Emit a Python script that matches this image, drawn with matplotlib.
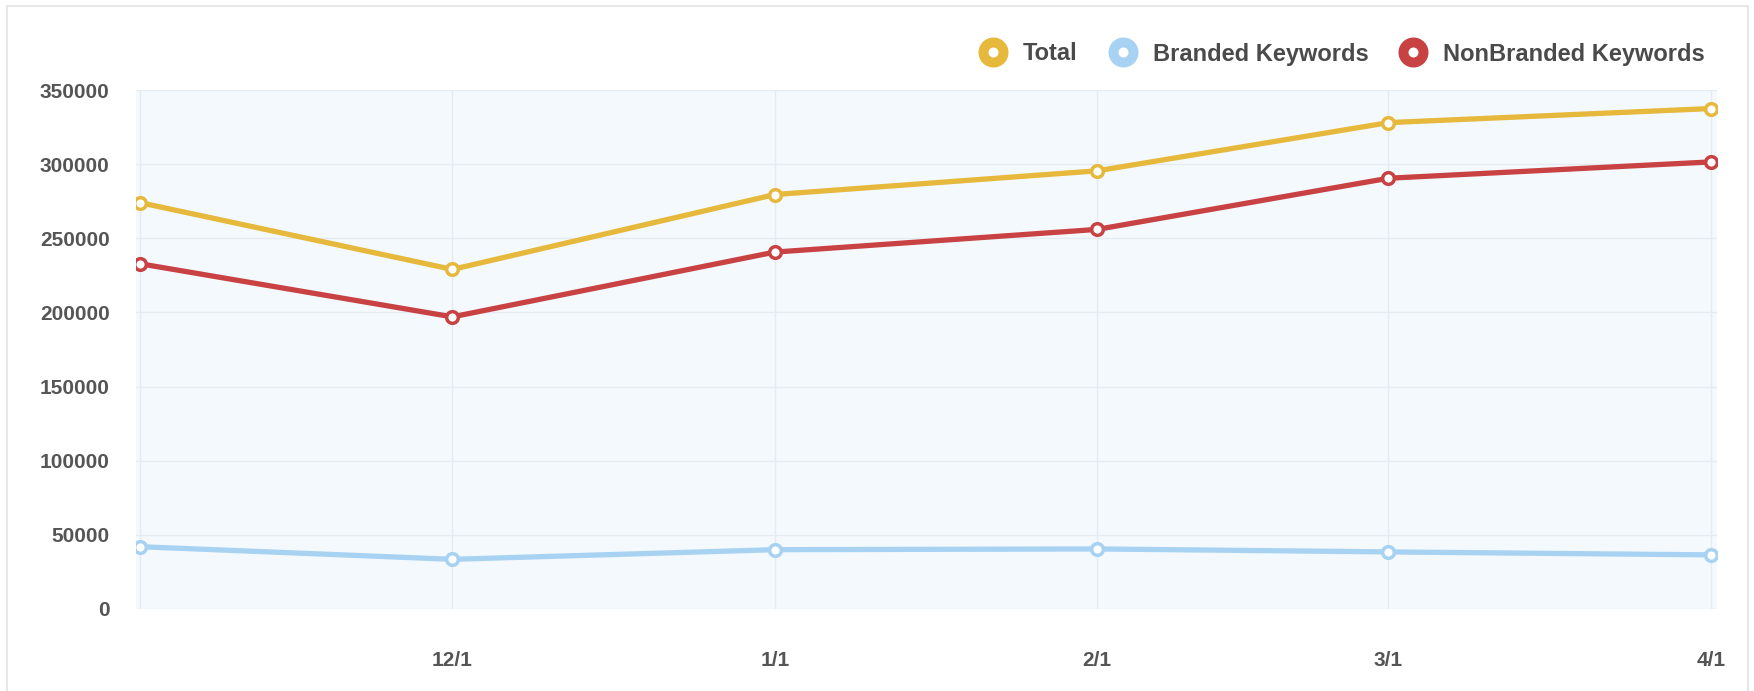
import matplotlib
matplotlib.use("Agg")
import matplotlib.pyplot as plt
from matplotlib.lines import Line2D
from matplotlib.patches import Rectangle
import pandas as pd

# ---------------- data ----------------
dates = ["2013-11-01", "2013-12-01", "2014-01-01", "2014-02-01", "2014-03-01", "2014-04-01"]
x_labels = ["", "12/1", "1/1", "2/1", "3/1", "4/1"]
total = [274000, 229000, 279500, 295500, 328000, 337500]
branded = [42000, 33500, 40000, 40500, 38500, 36500]
nonbranded = [232800, 197000, 240700, 256000, 290500, 301500]
y_ticks = [0, 50000, 100000, 150000, 200000, 250000, 300000, 350000]
series_names = ["Total", "Branded Keywords", "NonBranded Keywords"]
series_colors = ["#E6B83B", "#A8D2F2", "#C94243"]

plt.rcParams['font.family'] = ['Liberation Sans', 'DejaVu Sans']

x = pd.to_datetime(dates)

fig = plt.figure(figsize=(17.54, 6.91), dpi=100)
fig.patch.set_facecolor("white")

# outer frame of the widget
fig.patches.append(Rectangle((7 / 1754, -0.01), (1748 - 7) / 1754, 1 - 6 / 691 + 0.01,
                             transform=fig.transFigure, fill=False,
                             edgecolor="#E3E3E3", linewidth=1.2, zorder=0))

ax = fig.add_axes([136 / 1754, 1 - 609 / 691, (1717 - 136) / 1754, (609 - 90) / 691])
ax.set_facecolor("#F4F9FD")

for vals, name, col in zip([total, branded, nonbranded], series_names, series_colors):
    ax.plot(x, vals, color=col, linewidth=3.8, marker="o", markersize=8.4,
            markerfacecolor="white", markeredgecolor=col, markeredgewidth=2.5,
            solid_capstyle="round", zorder=3, label=name)

ax.set_ylim(0, 350000)
ax.set_yticks(y_ticks)
ax.set_yticklabels([str(v) for v in y_ticks])
ax.set_xlim(x[0] - pd.Timedelta(hours=10), x[-1] + pd.Timedelta(hours=14))
ax.set_xticks(x)
ax.set_xticklabels(x_labels)

ax.grid(True, color="#E4EBF2", linewidth=1.0, zorder=0)
ax.set_axisbelow(True)
for s in ax.spines.values():
    s.set_visible(False)

ax.tick_params(axis="both", length=0, labelsize=15, labelcolor="#555555")
ax.tick_params(axis="x", pad=30)
ax.tick_params(axis="y", pad=19)
for lab in ax.get_xticklabels() + ax.get_yticklabels():
    lab.set_fontweight("bold")

handles = [Line2D([], [], linestyle="none", marker="o", markersize=14.4,
                  markerfacecolor="white", markeredgecolor=c, markeredgewidth=7.2)
           for c in series_colors]
leg = fig.legend(handles, series_names, loc="center right",
                 bbox_to_anchor=(1705 / 1754, 1 - 54 / 691), ncol=3, frameon=False,
                 handlelength=1.1, handletextpad=0.72, columnspacing=1.35,
                 borderpad=0, borderaxespad=0,
                 prop={"size": 17, "weight": "bold"})
for t in leg.get_texts():
    t.set_color("#4A4A4A")

fig.savefig("out.png", dpi=100, facecolor="white")
